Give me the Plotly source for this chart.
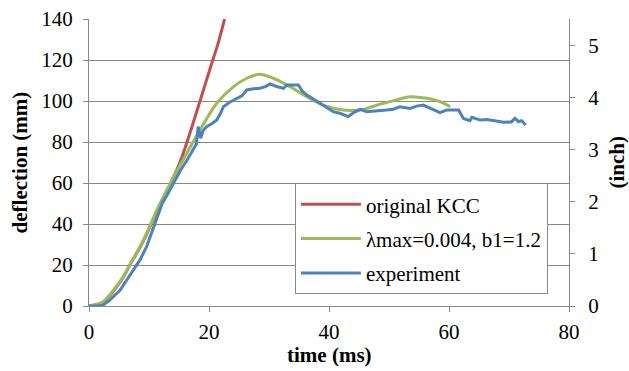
import plotly.graph_objects as go

# ---- data ----
kcc_t = [0, 1.0, 2.4, 4.0, 5.7, 7.0, 8.5, 10.0, 11.3, 12.8, 14.1, 15.0, 16.0, 17.0, 18.5, 20.2, 21.5, 22.6]
kcc_y = [0, 0.5, 2.0, 7.0, 14.0, 21.0, 28.5, 37.5, 46.0, 55.0, 63.0, 69.0, 77.0, 86.0, 100.0, 116.0, 128.0, 140.0]

fit_t = [0, 1.0, 2.4, 4.0, 5.7, 7.0, 8.5, 10.0, 11.3, 12.8, 14.1, 16.3, 18.5, 21.3, 24.1, 26.3, 28.5,
         30.7, 33.5, 36.3, 39.0, 42.4, 45.7, 48.5, 50.2, 53.5, 56.3, 58.5, 60.2]
fit_y = [0, 0.6, 2.1, 7.5, 14.3, 21.0, 29.0, 38.0, 46.8, 55.5, 63.0, 74.5, 85.9, 98.9, 107.0, 111.1, 113.0,
         111.1, 107.0, 102.1, 98.0, 95.6, 95.9, 98.5, 99.7, 102.1, 101.3, 99.7, 97.2]

exp_t = [0, 1.5, 2.4, 3.5, 5.2, 6.3, 7.4, 8.5, 9.6, 10.5, 11.3, 12.2, 13.0, 14.1, 15.2, 16.3, 17.2, 17.9,
         18.2, 18.6, 19.0, 19.6, 20.5, 21.3, 22.0, 22.4, 23.5, 24.6, 25.5, 26.3, 27.4, 28.5, 29.4, 30.2,
         31.3, 32.4, 33.0, 33.5, 34.9, 35.5, 36.3, 37.4, 38.5, 39.6, 40.7, 41.8, 43.2, 44.2, 45.2, 46.3,
         47.5, 48.5, 49.6, 50.7, 51.8, 53.5, 54.6, 55.7, 56.5, 57.4, 58.5, 59.6, 61.6, 62.4, 63.5, 63.8,
         65.2, 66.3, 67.4, 69.1, 70.4, 71.0, 71.6, 72.1, 72.8]
exp_y = [0, 0, 0.5, 3.0, 7.8, 12.5, 17.6, 22.5, 29.0, 36.0, 43.0, 50.0, 54.0, 60.0, 66.0, 71.0, 75.5, 79.0,
         87.5, 81.8, 85.5, 87.5, 89.0, 90.7, 94.5, 97.2, 99.5, 101.3, 102.5, 105.4, 106.0, 106.2, 107.0, 108.3,
         107.0, 106.2, 107.8, 107.8, 107.8, 105.0, 102.9, 101.0, 98.9, 97.0, 94.8, 94.0, 92.4, 94.5, 95.9, 94.8,
         95.0, 95.5, 95.6, 96.0, 97.2, 96.4, 97.5, 98.0, 97.0, 95.9, 94.3, 95.6, 95.6, 91.5, 90.4, 92.0,
         90.7, 91.0, 90.4, 89.6, 89.8, 91.5, 89.9, 90.4, 88.3]

names = ["original KCC", "λmax=0.004, b1=1.2", "experiment"]
colors = ["#C0504D", "#9BBB59", "#4F81BD"]
shapes = ["spline", "spline", "linear"]

x_ticks = [0, 20, 40, 60, 80]
y_ticks = [0, 20, 40, 60, 80, 100, 120, 140]
y2_ticks = [0, 1, 2, 3, 4, 5]
MM_PER_INCH = 25.4

x_title = "time (ms)"
y_title = "deflection (mm)"
y2_title = "(inch)"

FONT = "Liberation Serif, Times New Roman, Times, serif"
GRID = "#888888"
FS = 21

fig = go.Figure()
for i, (tt, yy) in enumerate([(kcc_t, kcc_y), (fit_t, fit_y), (exp_t, exp_y)]):
    fig.add_trace(go.Scatter(x=tt, y=yy, mode="lines", name=names[i],
                             line=dict(color=colors[i], width=3, shape=shapes[i], smoothing=0.8),
                             legendgroup=f"g{i}"))
# helper trace so the secondary (inch) axis is drawn
fig.add_trace(go.Scatter(x=[None], y=[None], yaxis="y2", showlegend=False, hoverinfo="skip"))

axis_common = dict(zeroline=False, showline=True, linecolor=GRID, linewidth=1,
                   ticks="outside", ticklen=5, tickcolor=GRID, automargin=False,
                   tickfont=dict(family=FONT, size=FS))

fig.update_layout(
    width=629, height=371,
    margin=dict(l=89, r=60, t=19, b=65, autoexpand=False),
    paper_bgcolor="white", plot_bgcolor="white",
    font=dict(family=FONT, size=FS, color="black"),
    showlegend=True,
    legend=dict(x=0.429, y=0.428, xanchor="left", yanchor="top",
                bgcolor="white", bordercolor=GRID, borderwidth=1,
                font=dict(family=FONT, size=FS), tracegroupgap=4,
                itemwidth=60),
    xaxis=dict(range=[0, 80], tickvals=x_ticks, showgrid=False, ticklabelstandoff=2, **axis_common),
    yaxis=dict(range=[0, 140], tickvals=y_ticks, showgrid=True, gridcolor=GRID, gridwidth=1,
               ticklabelstandoff=6, **axis_common),
    yaxis2=dict(range=[0, 140 / MM_PER_INCH], tickvals=y2_ticks, overlaying="y", side="right",
                showgrid=False, ticklabelstandoff=9, **axis_common),
    annotations=[
        dict(text=f"<b>{x_title}</b>", xref="paper", yref="paper", x=0.5, y=-0.171,
             showarrow=False, xanchor="center", yanchor="middle", font=dict(family=FONT, size=FS)),
        dict(text=f"<b>{y_title}</b>", xref="paper", yref="paper", x=-0.144, y=0.5, textangle=-90,
             showarrow=False, xanchor="center", yanchor="middle", font=dict(family=FONT, size=FS)),
        dict(text=f"<b>{y2_title}</b>", xref="paper", yref="paper", x=1.098, y=0.5, textangle=-90,
             showarrow=False, xanchor="center", yanchor="middle", font=dict(family=FONT, size=FS)),
    ],
)

fig.write_html("out.html")
